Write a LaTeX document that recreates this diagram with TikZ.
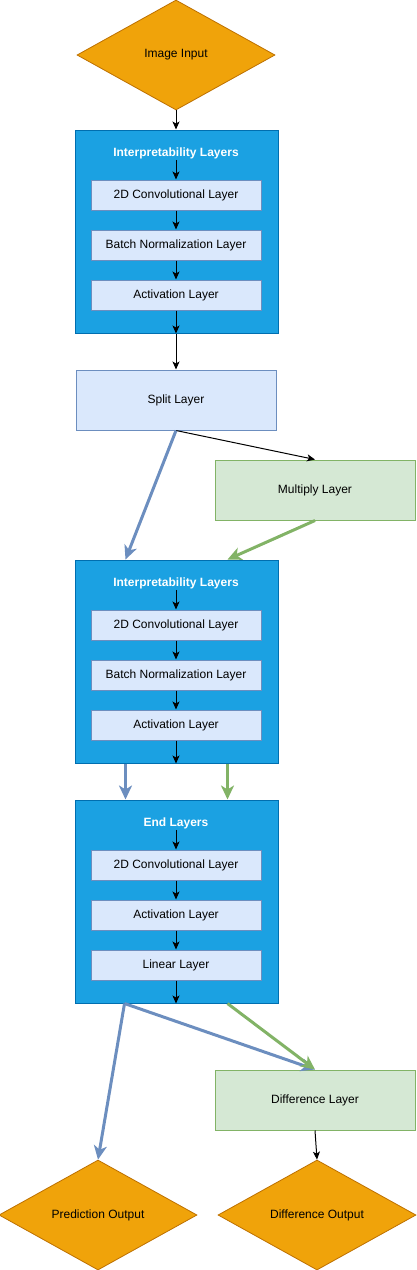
\documentclass[tikz,border=0pt]{standalone}
\usepackage{fontspec}
\setmainfont{Liberation Sans}
\usepackage{tikz}
\usetikzlibrary{shapes.geometric, positioning, calc, arrows.meta}

\definecolor{boxblue}{HTML}{1BA1E2}
\definecolor{boxedge}{HTML}{006EAF}
\definecolor{paleblue}{HTML}{DAE8FC}
\definecolor{bluedge}{HTML}{6C8EBF}
\definecolor{palegreen}{HTML}{D5E8D4}
\definecolor{greenedge}{HTML}{82B366}
\definecolor{orangefill}{HTML}{F0A30A}
\definecolor{orangedge}{HTML}{BD7000}

\tikzset{
    every node/.style={font=\fontsize{12}{14}\selectfont},
    bigbox/.style={draw=boxedge, fill=boxblue, line width=1pt, minimum width=203pt, minimum height=203pt, inner sep=0pt},
    boxtitle/.style={text=white, font=\fontsize{12}{14}\selectfont\bfseries, inner sep=1pt},
    layerbox/.style={draw=bluedge, fill=paleblue, line width=1pt, minimum width=170pt, minimum height=30pt, inner sep=0pt},
    wideblue/.style={draw=bluedge, fill=paleblue, line width=1pt, minimum width=200pt, minimum height=60pt, inner sep=0pt},
    widegreen/.style={draw=greenedge, fill=palegreen, line width=1pt, minimum width=200pt, minimum height=60pt, inner sep=0pt},
    decision/.style={diamond, aspect=1.8, draw=orangedge, fill=orangefill, line width=0.8pt, minimum width=198pt, minimum height=110pt, inner sep=0pt},
    thinarrow/.style={-{Stealth[length=8pt, width=7pt, inset=2pt]}, line width=1pt},
    bluearrow/.style={-{Stealth[length=14pt, width=13pt, inset=4pt]}, line width=3pt, draw=bluedge},
    greenarrow/.style={-{Stealth[length=14pt, width=13pt, inset=4pt]}, line width=3pt, draw=greenedge}
}

\begin{document}
\begin{tikzpicture}[x=1pt, y=-1pt]

    \useasboundingbox (0,0) rectangle (417,1270);

    % Input diamond
    \node[decision] (imgin) at (176,55) {Image Input};

    % First interpretability block
    \node[bigbox] (interpA) at (176.5,231.5) {};
    \node[boxtitle] (titleA) at (176,153) {Interpretability Layers};
    \node[layerbox] (convA) at (176,195) {2D Convolutional Layer};
    \node[layerbox] (normA) at (176,245) {Batch Normalization Layer};
    \node[layerbox] (actA) at (176,295) {Activation Layer};

    % Split and multiply
    \node[wideblue] (split) at (176,400) {Split Layer};
    \node[widegreen] (mult) at (315,490) {Multiply Layer};

    % Second interpretability block
    \node[bigbox] (interpB) at (176.5,661.5) {};
    \node[boxtitle] (titleB) at (176,583) {Interpretability Layers};
    \node[layerbox] (convB) at (176,625) {2D Convolutional Layer};
    \node[layerbox] (normB) at (176,675) {Batch Normalization Layer};
    \node[layerbox] (actB) at (176,725) {Activation Layer};

    % End block
    \node[bigbox] (endblk) at (176.5,901.5) {};
    \node[boxtitle] (titleC) at (176,823) {End Layers};
    \node[layerbox] (convC) at (176,865) {2D Convolutional Layer};
    \node[layerbox] (actC) at (176,915) {Activation Layer};
    \node[layerbox] (linC) at (176,965) {Linear Layer};

    % Outputs
    \node[widegreen] (diff) at (315,1100) {Difference Layer};
    \node[decision] (predout) at (98,1215) {Prediction Output};
    \node[decision] (diffout) at (317,1215) {Difference Output};

    % Black arrows down the first block
    \draw[thinarrow] (imgin.south) -- (interpA.north -| imgin.south);
    \draw[thinarrow] (titleA.south) -- (convA.north);
    \draw[thinarrow] (convA.south) -- (normA.north);
    \draw[thinarrow] (normA.south) -- (actA.north);
    \draw[thinarrow] (actA.south) -- (interpA.south -| actA.south);
    \draw[thinarrow] (interpA.south -| split.north) -- (split.north);
    \draw[thinarrow] (split.south) -- (mult.north);

    % Split branches into second block
    \draw[bluearrow] (split.south) -- ($(interpB.north west)+(51,0)$);
    \draw[greenarrow] (mult.south) -- ($(interpB.north west)+(153,0)$);

    % Black arrows in second block
    \draw[thinarrow] (titleB.south) -- (convB.north);
    \draw[thinarrow] (convB.south) -- (normB.north);
    \draw[thinarrow] (normB.south) -- (actB.north);
    \draw[thinarrow] (actB.south) -- (interpB.south -| actB.south);

    % Two paths into end block
    \draw[bluearrow] ($(interpB.south west)+(51,0)$) -- ($(endblk.north west)+(51,0)$);
    \draw[greenarrow] ($(interpB.south west)+(153,0)$) -- ($(endblk.north west)+(153,0)$);

    % Black arrows in end block
    \draw[thinarrow] (titleC.south) -- (convC.north);
    \draw[thinarrow] (convC.south) -- (actC.north);
    \draw[thinarrow] (actC.south) -- (linC.north);
    \draw[thinarrow] (linC.south) -- (endblk.south -| linC.south);

    % Output branches
    \draw[bluearrow] ($(endblk.south west)+(50,0)$) -- (predout.north);
    \draw[bluearrow] ($(endblk.south west)+(50,0)$) -- (diff.north);
    \draw[greenarrow] ($(endblk.south west)+(153,0)$) -- (diff.north);
    \draw[thinarrow] (diff.south) -- (diffout.north);

\end{tikzpicture}
\end{document}
